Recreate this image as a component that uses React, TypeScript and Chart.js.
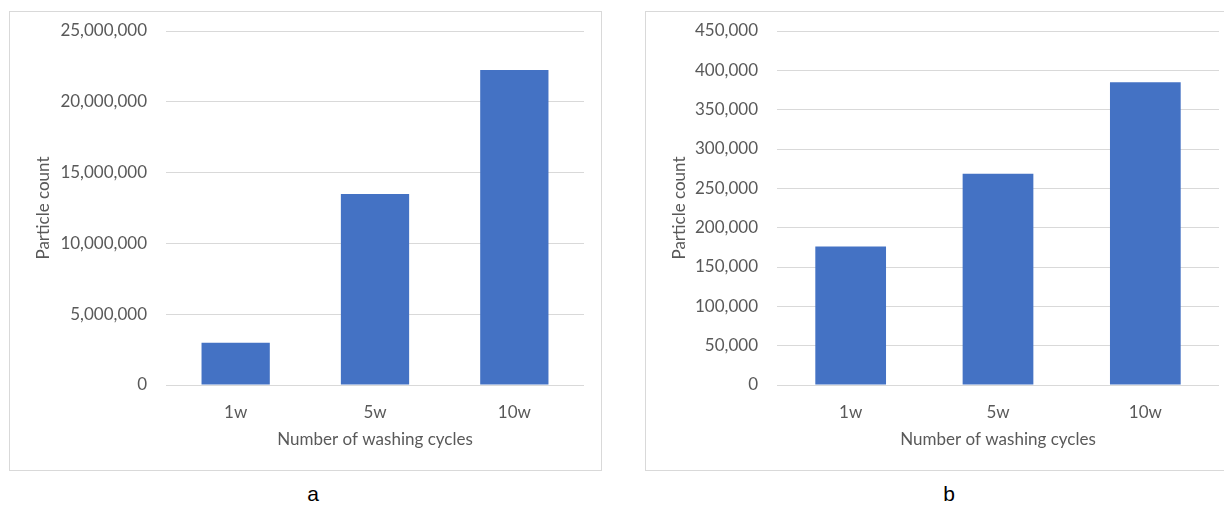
import React, { useEffect, useRef } from "react";
import { Chart, registerables } from "chart.js";

Chart.register(...registerables);

const categories = ["1w", "5w", "10w"];
const seriesA = [2990000, 13490000, 22250000];
const seriesB = [176000, 268500, 385000];
const ticksA = { max: 25000000, step: 5000000 };
const ticksB = { max: 450000, step: 50000 };
const yTitle = "Particle count";
const xTitle = "Number of washing cycles";
const panelLabels = ["a", "b"];

const FONT = "Lato, 'Noto Sans', sans-serif";
const GRAY = "#595959";
const BAR = "#4472C4";

type PanelProps = {
  values: number[];
  max: number;
  step: number;
  width: number;
  yWidth: number;
  padRight: number;
  barPct: number;
};

function BarPanel({ values, max, step, width, yWidth, padRight, barPct }: PanelProps) {
  const ref = useRef<HTMLCanvasElement | null>(null);
  useEffect(() => {
    if (!ref.current) return;
    const chart = new Chart(ref.current, {
      type: "bar",
      data: {
        labels: categories,
        datasets: [
          {
            data: values,
            backgroundColor: BAR,
            borderWidth: 0,
            categoryPercentage: 1,
            barPercentage: barPct,
          },
        ],
      },
      options: {
        animation: false,
        responsive: false,
        maintainAspectRatio: false,
        layout: { padding: { top: 19, right: padRight, left: 0, bottom: 0 } },
        plugins: { legend: { display: false }, tooltip: { enabled: false } },
        scales: {
          x: {
            grid: { display: false, drawTicks: false },
            border: { display: false },
            ticks: {
              color: GRAY,
              font: { family: FONT, size: 17 },
              padding: 17,
              maxRotation: 0,
              minRotation: 0,
            },
            title: {
              display: true,
              text: xTitle,
              color: GRAY,
              font: { family: FONT, size: 17 },
              padding: { top: 0, bottom: 20 },
            },
            afterFit: (s: any) => {
              s.height = 85;
              s.paddingLeft = 0;
              s.paddingRight = 0;
            },
          },
          y: {
            min: 0,
            max,
            grid: { color: "#d9d9d9", lineWidth: 1, drawTicks: false },
            border: { display: false },
            ticks: {
              stepSize: step,
              color: GRAY,
              font: { family: FONT, size: 17 },
              padding: 19,
              callback: (v: any) => Number(v).toLocaleString("en-US"),
            },
            title: {
              display: true,
              text: yTitle,
              color: GRAY,
              font: { family: FONT, size: 17 },
              padding: { top: 23, bottom: 0 },
            },
            afterFit: (s: any) => {
              s.width = yWidth;
              s.paddingTop = 0;
              s.paddingBottom = 0;
            },
          },
        },
      },
    });
    return () => chart.destroy();
  }, []);
  return (
    <canvas
      ref={ref}
      width={width}
      height={458}
      style={{ position: "absolute", left: 0, top: 0, width, height: 458 }}
    />
  );
}

const boxStyle = (left: number, width: number): React.CSSProperties => ({
  position: "absolute",
  left,
  top: 11,
  width,
  height: 458,
  border: "1px solid #d9d9d9",
  background: "#fff",
});

const labelStyle = (left: number): React.CSSProperties => ({
  position: "absolute",
  left,
  width: 100,
  top: 482,
  textAlign: "center",
  font: "21px 'Liberation Sans', Arial, sans-serif",
  color: "#000",
});

export default function App() {
  return (
    <div
      style={{
        position: "fixed",
        left: 0,
        top: 0,
        width: 1224,
        height: 506,
        overflow: "hidden",
        background: "#fff",
      }}
    >
      <div style={boxStyle(9, 591)}>
        <BarPanel values={seriesA} max={ticksA.max} step={ticksA.step} width={591} yWidth={156} padRight={17} barPct={0.49} />
      </div>
      <div style={boxStyle(645, 590)}>
        <BarPanel values={seriesB} max={ticksB.max} step={ticksB.step} width={579} yWidth={131} padRight={6} barPct={0.48} />
      </div>
      <div style={labelStyle(263)}>{panelLabels[0]}</div>
      <div style={labelStyle(899)}>{panelLabels[1]}</div>
    </div>
  );
}
